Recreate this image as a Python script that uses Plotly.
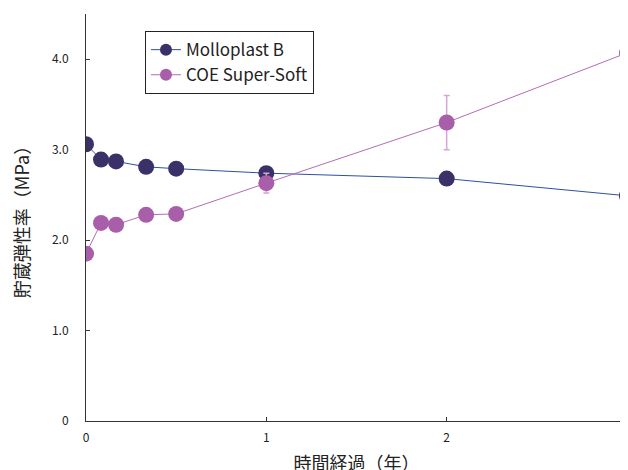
import plotly.graph_objects as go

# Data (years, storage modulus MPa)
time_years = [0, 1/12, 2/12, 4/12, 0.5, 1, 2, 3]
molloplast = [3.06, 2.89, 2.87, 2.81, 2.79, 2.74, 2.68, 2.49]
coe = [1.85, 2.19, 2.17, 2.28, 2.29, 2.63, 3.30, 4.07]
coe_err = [0, 0, 0, 0, 0, 0.11, 0.30, 0.18]

series_names = ["Molloplast B", "COE Super-Soft"]
line_colors = ["#2f4fa3", "#b26cb8"]
marker_colors = ["#3b3169", "#a95ea9"]

x_ticks = [0, 1, 2, 3]
x_labels = ["0", "1", "2", "3"]
y_ticks = [0, 1, 2, 3, 4]
y_labels = ["0", "1.0", "2.0", "3.0", "4.0"]

FONT = "Noto Sans CJK JP"

fig = go.Figure()
fig.add_trace(go.Scatter(
    x=time_years, y=molloplast, mode="lines+markers", name=series_names[0],
    line=dict(color=line_colors[0], width=1),
    marker=dict(color=marker_colors[0], size=16),
    showlegend=False,
))
fig.add_trace(go.Scatter(
    x=time_years, y=coe, mode="lines+markers", name=series_names[1],
    line=dict(color=line_colors[1], width=1),
    marker=dict(color=marker_colors[1], size=16),
    error_y=dict(type="data", array=coe_err, visible=True, color="#d3a6d5",
                 thickness=1.5, width=3),
    showlegend=False,
))
# legend entries (smaller symbols like the reference legend)
for name, lc, mc in zip(series_names, line_colors, marker_colors):
    fig.add_trace(go.Scatter(
        x=[None], y=[None], mode="lines+markers", name=name,
        line=dict(color=lc, width=1), marker=dict(color=mc, size=12),
    ))

# page body has an 8px margin; margins compensate for that offset
fig.update_layout(
    width=628, height=470,
    margin=dict(l=78, r=9, t=6, b=57),
    paper_bgcolor="white", plot_bgcolor="white",
    font=dict(family=FONT, color="#222"),
    showlegend=True,
    legend=dict(
        x=0.109, y=0.958, xanchor="left", yanchor="top",
        bgcolor="white", bordercolor="#222", borderwidth=1,
        font=dict(family=FONT, size=17, color="#222"),
        tracegroupgap=0,
    ),
    xaxis=dict(
        range=[0, 3], tickmode="array", tickvals=x_ticks, ticktext=x_labels,
        showgrid=False, zeroline=False, showline=True, linecolor="#333",
        linewidth=1, ticks="inside", ticklen=4, tickcolor="#333",
        tickfont=dict(family=FONT, size=12, color="#222"),
        ticklabelstandoff=6, automargin=False,
        title=dict(text="時間経過（年）", font=dict(family=FONT, size=18, color="#222"),
                   standoff=12),
    ),
    yaxis=dict(
        range=[0, 4.5], tickmode="array", tickvals=y_ticks, ticktext=y_labels,
        showgrid=False, zeroline=False, showline=True, linecolor="#333",
        linewidth=1, ticks="inside", ticklen=4, tickcolor="#333",
        tickfont=dict(family=FONT, size=12, color="#222"),
        ticklabelstandoff=14, automargin=False,
        title=dict(text="貯蔵弾性率（MPa）", font=dict(family=FONT, size=18, color="#222"),
                   standoff=22),
    ),
)

fig.write_html("out.html")
